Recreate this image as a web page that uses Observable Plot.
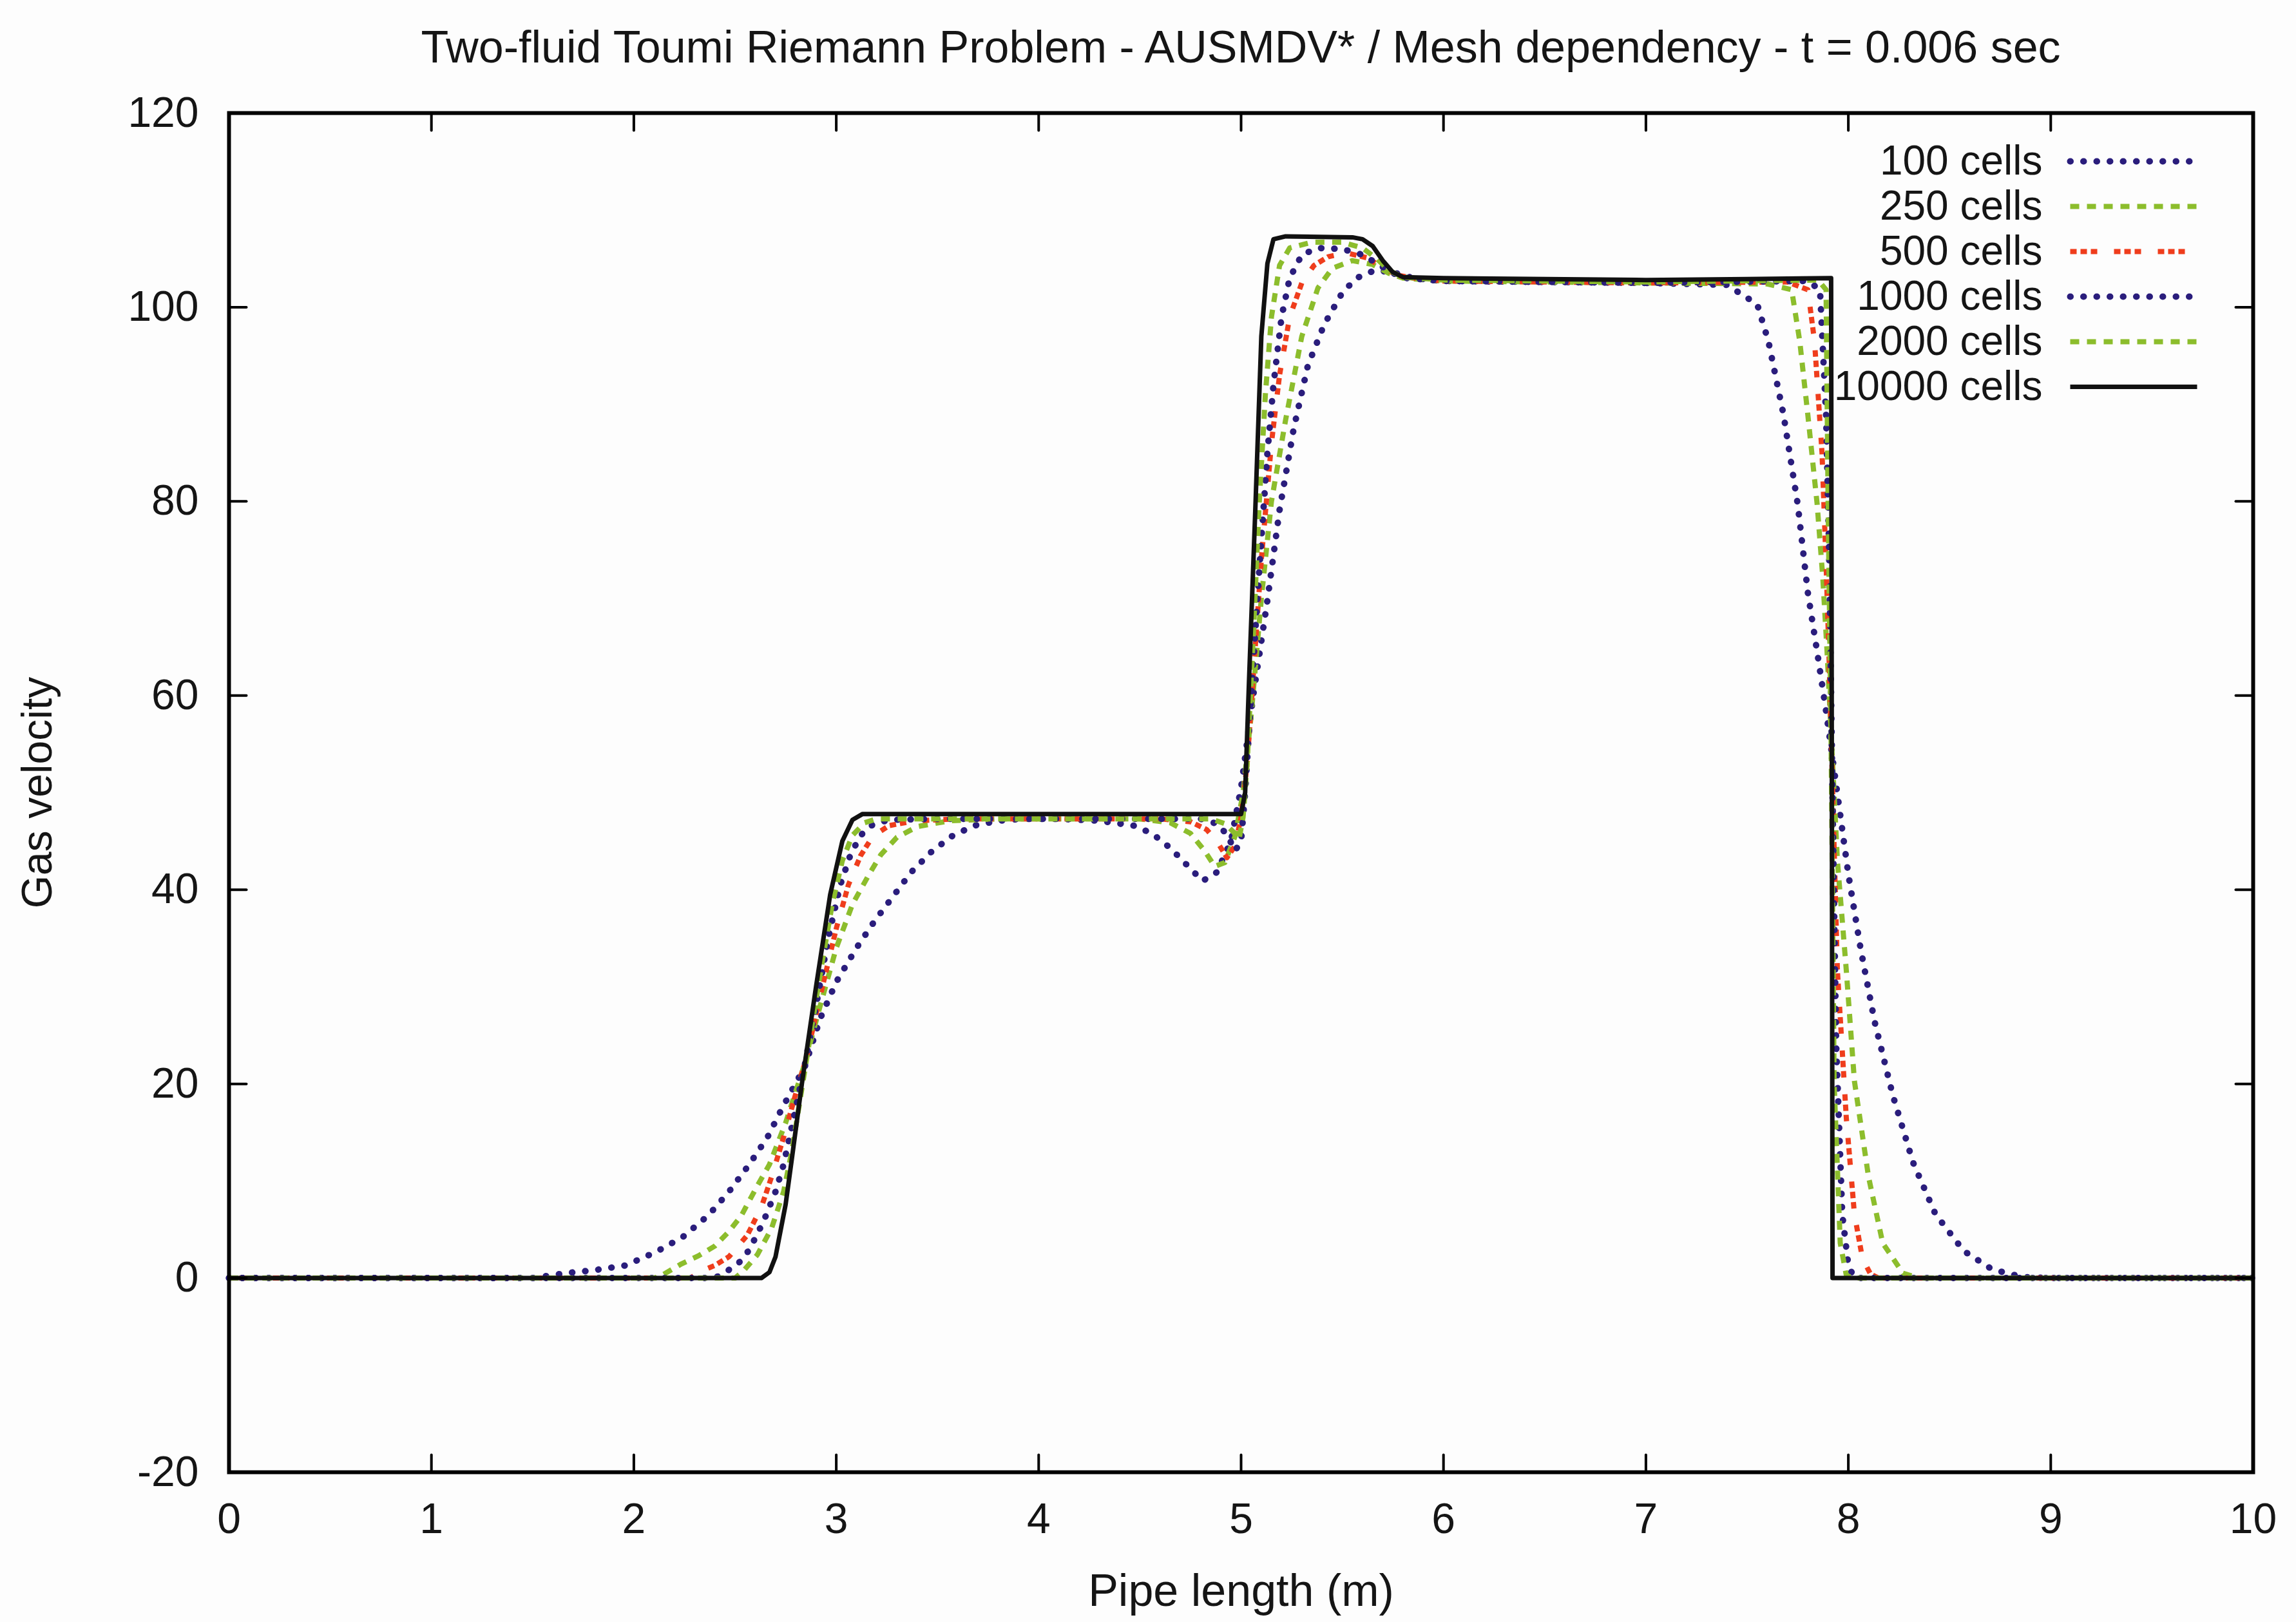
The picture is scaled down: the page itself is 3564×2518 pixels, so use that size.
<!DOCTYPE html>
<html>
<head>
<meta charset="utf-8">
<script src="https://cdn.jsdelivr.net/npm/d3@7"></script>
<script src="https://cdn.jsdelivr.net/npm/@observablehq/plot@0.6"></script>
<style>
  html, body { margin: 0; padding: 0; background: #fdfdfd; }
  body { width: 3564px; height: 2518px; overflow: hidden; font-family: "Liberation Sans", Arial, sans-serif; }
  #title { position: relative; height: 150px; }
  #title div { position: absolute; left: 355px; right: 67px; top: 38px; text-align: center;
               font-size: 70px; line-height: 70px; color: #151515; white-space: nowrap; }
  svg { overflow: visible; display: block; }
</style>
</head>
<body>
<div id="title"><div>Two-fluid Toumi Riemann Problem - AUSMDV* / Mesh dependency - t = 0.006 sec</div></div>
<div id="chart"></div>
<script>
// ---------- data ----------
const seriesNames = ["100 cells", "250 cells", "500 cells", "1000 cells", "2000 cells", "10000 cells"];
const xTicks = [0, 1, 2, 3, 4, 5, 6, 7, 8, 9, 10];
const yTicks = [-20, 0, 20, 40, 60, 80, 100, 120];

const x100 = [0, 1.50, 1.66, 1.80, 1.96, 2.11, 2.24, 2.37, 2.47, 2.57, 2.66, 2.735, 2.845, 2.92, 3.00, 3.10, 3.19, 3.28, 3.37, 3.47, 3.57, 3.68, 3.80, 3.92, 4.10, 4.30, 4.47, 4.56, 4.65, 4.73, 4.81, 4.88, 4.95, 5.00, 5.06, 5.13, 5.19, 5.26, 5.33, 5.41, 5.50, 5.57, 5.66, 5.75, 5.85, 6.00, 7.00, 7.40, 7.55, 7.605, 7.68, 7.75, 7.80, 7.846, 7.89, 7.93, 8.00, 8.06, 8.13, 8.22, 8.32, 8.43, 8.57, 8.71, 8.86, 9.00, 10];
const v100 = [0, 0, 0.5, 0.8, 1.3, 2.7, 4.2, 6.5, 8.9, 11.7, 14.5, 17.6, 21.8, 26.7, 30.5, 34.0, 36.8, 39.3, 41.8, 43.9, 45.5, 46.6, 47.1, 47.3, 47.3, 47.1, 46.6, 45.8, 44.3, 42.6, 40.9, 41.8, 45.0, 50.5, 60.0, 69.8, 79.1, 87.5, 94.0, 98.2, 101.5, 103.0, 103.8, 103.6, 103.0, 102.7, 102.5, 102.3, 100.3, 96.5, 88.9, 79.7, 70.6, 64.5, 58.4, 52.3, 41.6, 34.0, 26.4, 18.8, 11.9, 6.6, 2.8, 0.9, 0.1, 0, 0];

const x250 = [0, 2.10, 2.14, 2.23, 2.32, 2.40, 2.47, 2.53, 2.61, 2.67, 2.75, 2.84, 2.92, 3.00, 3.08, 3.16, 3.22, 3.30, 3.40, 3.56, 3.80, 4.50, 4.65, 4.75, 4.82, 4.87, 4.92, 4.97, 5.01, 5.05, 5.10, 5.15, 5.22, 5.30, 5.38, 5.45, 5.55, 5.65, 5.73, 5.80, 6.00, 7.00, 7.60, 7.72, 7.76, 7.80, 7.846, 7.874, 7.895, 7.92, 7.946, 7.99, 8.03, 8.10, 8.17, 8.27, 8.35, 10];
const v250 = [0, 0, 0.3, 1.4, 2.3, 3.3, 4.8, 6.4, 9.5, 11.7, 16.0, 21.8, 28.0, 34.0, 38.5, 41.5, 43.6, 45.4, 46.5, 47.1, 47.3, 47.3, 46.9, 45.8, 44.0, 42.4, 42.8, 45.5, 50.0, 58.0, 70.0, 80.0, 88.4, 97.0, 102.0, 104.0, 104.8, 104.4, 103.5, 103.0, 102.7, 102.5, 102.4, 101.8, 96.5, 88.9, 79.7, 72.1, 64.5, 54.0, 43.0, 31.7, 20.3, 10.4, 3.6, 0.5, 0, 0];

const x500 = [0, 2.28, 2.33, 2.40, 2.47, 2.56, 2.63, 2.68, 2.74, 2.80, 2.85, 2.92, 3.00, 3.06, 3.12, 3.18, 3.26, 3.39, 3.60, 4.60, 4.75, 4.83, 4.88, 4.93, 4.97, 5.00, 5.03, 5.06, 5.10, 5.15, 5.19, 5.24, 5.30, 5.36, 5.43, 5.52, 5.62, 5.70, 5.77, 5.85, 6.00, 7.00, 7.70, 7.80, 7.833, 7.87, 7.89, 7.905, 7.92, 7.946, 7.99, 8.03, 8.07, 8.11, 8.15, 10];
const v500 = [0, 0, 0.7, 1.3, 2.2, 4.4, 7.3, 10.4, 14.5, 19.0, 22.5, 29.0, 36.0, 40.5, 43.5, 45.5, 46.6, 47.1, 47.3, 47.3, 47.0, 46.2, 45.0, 43.3, 44.5, 47.5, 53.0, 62.0, 74.0, 86.0, 93.0, 99.0, 102.5, 104.3, 105.2, 105.6, 105.1, 104.1, 103.3, 103.0, 102.7, 102.5, 102.6, 101.8, 96.5, 85.0, 73.6, 63.7, 52.0, 31.7, 16.5, 6.6, 2.0, 0.4, 0, 0];

const x1000 = [0, 2.40, 2.46, 2.52, 2.57, 2.64, 2.70, 2.74, 2.79, 2.845, 2.90, 2.96, 3.02, 3.07, 3.12, 3.18, 3.26, 3.50, 4.80, 4.88, 4.93, 4.97, 5.00, 5.02, 5.05, 5.09, 5.13, 5.16, 5.20, 5.24, 5.30, 5.38, 5.50, 5.60, 5.68, 5.75, 5.82, 6.00, 7.00, 7.80, 7.86, 7.89, 7.905, 7.915, 7.925, 7.94, 7.97, 8.00, 8.03, 10];
const v1000 = [0, 0, 0.7, 1.6, 2.9, 5.8, 8.9, 11.7, 16.5, 22.0, 28.0, 35.0, 40.5, 43.6, 45.6, 46.7, 47.2, 47.3, 47.3, 46.8, 45.7, 44.0, 45.0, 50.0, 60.0, 73.0, 85.0, 92.0, 99.0, 103.0, 105.4, 106.1, 106.0, 105.4, 104.4, 103.5, 103.0, 102.7, 102.5, 102.7, 101.8, 88.9, 75.0, 60.0, 45.0, 24.1, 6.6, 1.3, 0, 0];

const x2000 = [0, 2.50, 2.54, 2.61, 2.68, 2.74, 2.78, 2.83, 2.88, 2.93, 2.98, 3.03, 3.08, 3.14, 3.20, 4.85, 4.92, 4.96, 4.99, 5.01, 5.03, 5.06, 5.09, 5.12, 5.15, 5.19, 5.24, 5.35, 5.50, 5.60, 5.67, 5.73, 5.80, 6.00, 7.00, 7.85, 7.89, 7.90, 7.915, 7.93, 7.96, 7.99, 8.02, 10];
const v2000 = [0, 0, 0.7, 2.4, 5.1, 8.9, 13.0, 19.5, 26.0, 32.5, 38.5, 43.0, 45.6, 46.9, 47.3, 47.3, 46.8, 46.0, 45.2, 47.5, 53.0, 66.0, 80.0, 91.0, 99.0, 104.3, 106.1, 106.7, 106.7, 106.1, 105.0, 103.8, 103.1, 102.8, 102.6, 102.8, 101.8, 80.0, 55.0, 20.0, 3.6, 0.3, 0, 0];

const x10000 = [0, 2.63, 2.67, 2.70, 2.75, 2.78, 2.83, 2.90, 2.97, 3.03, 3.08, 3.13, 3.50, 4.50, 5.00, 5.02, 5.04, 5.07, 5.10, 5.13, 5.16, 5.22, 5.55, 5.60, 5.65, 5.70, 5.75, 5.80, 6.00, 7.00, 7.50, 7.915, 7.922, 10];
const v10000 = [0, 0, 0.6, 2.2, 7.6, 12.2, 20.0, 30.0, 39.5, 45.0, 47.2, 47.8, 47.8, 47.8, 47.8, 50.0, 62.0, 79.0, 97.0, 104.5, 107.0, 107.3, 107.2, 107.0, 106.3, 104.8, 103.6, 103.1, 103.0, 102.8, 102.9, 103.0, 0, 0];

// ---------- styles ----------
const BLUE = "#2a1d7c", GREEN = "#8cbd2c", RED = "#ef3d1c", BLACK = "#111";
const dotted = {strokeWidth: 10, strokeDasharray: "0.5,20", strokeLinecap: "round"};
const dashed = {strokeWidth: 8, strokeDasharray: "14,12", strokeLinecap: "butt"};
const dashdot = {strokeWidth: 8, strokeDasharray: "10,6,10,6,10,26", strokeLinecap: "butt"};
const solid = {strokeWidth: 7, strokeLinecap: "butt"};

const seriesX = [x100, x250, x500, x1000, x2000, x10000];
const seriesV = [v100, v250, v500, v1000, v2000, v10000];
const seriesColor = [BLUE, GREEN, RED, BLUE, GREEN, BLACK];
const seriesStyle = [dotted, dashed, dashdot, dotted, dashed, solid];

const tables = seriesX.map((xs, s) => xs.map((x, i) => ({x, y: seriesV[s][i]})));

// ---------- shapes for inward ticks / legend samples ----------
const stickShape = {draw(ctx, l) { ctx.moveTo(0, 0); ctx.lineTo(0, -l); }};
const TICK = 27;
const tickOpts = {anchor: "start", length: TICK, shape: stickShape, stroke: "black", strokeWidth: 4};

// legend geometry (pixels relative to frame top-right)
const legTextDx = -327, legLineDx = -284, legLineLen = 197, legDy0 = 75, legStep = 70;

const legendMarks = [];
seriesNames.forEach((name, i) => {
  legendMarks.push(Plot.text([name], {
    frameAnchor: "top-right", dx: legTextDx, dy: legDy0 + i * legStep,
    text: d => d, textAnchor: "end", lineAnchor: "middle", fontSize: 64, fill: "#151515"
  }));
  legendMarks.push(Plot.vector([0], {
    frameAnchor: "top-right", dx: legLineDx, dy: legDy0 + i * legStep,
    rotate: 90, anchor: "start", length: legLineLen, shape: stickShape,
    stroke: seriesColor[i], ...seriesStyle[i]
  }));
});

const lineMarks = tables.map((t, s) => Plot.line(t, {
  x: "x", y: "y", stroke: seriesColor[s], strokeLinejoin: "round", ...seriesStyle[s]
}));

const plot = Plot.plot({
  width: 3564,
  height: 2368,
  marginLeft: 355,
  marginRight: 67,
  marginTop: 25,
  marginBottom: 233,
  x: {domain: [0, 10]},
  y: {domain: [-20, 120]},
  style: {fontFamily: "'Liberation Sans', Arial, sans-serif", background: "transparent", color: "#151515"},
  marks: [
    ...legendMarks,
    ...lineMarks,
    Plot.frame({stroke: "black", strokeWidth: 6}),
    Plot.vector(xTicks, {x: d => d, frameAnchor: "bottom", rotate: 0, ...tickOpts}),
    Plot.vector(xTicks, {x: d => d, frameAnchor: "top", rotate: 180, ...tickOpts}),
    Plot.vector(yTicks, {y: d => d, frameAnchor: "left", rotate: 90, ...tickOpts}),
    Plot.vector(yTicks, {y: d => d, frameAnchor: "right", rotate: -90, ...tickOpts}),
    Plot.axisX({anchor: "bottom", ticks: xTicks, tickSize: 0, tickPadding: 48, fontSize: 66,
                tickFormat: d => String(d), label: null}),
    Plot.axisY({anchor: "left", ticks: yTicks, tickSize: 0, tickPadding: 47, fontSize: 66,
                tickFormat: d => String(d), label: null}),
    Plot.text(["Pipe length (m)"], {frameAnchor: "bottom", dy: 185, lineAnchor: "middle",
                text: d => d, fontSize: 70, fill: "#151515"}),
    Plot.text(["Gas velocity"], {frameAnchor: "left", dx: -297, rotate: -90, lineAnchor: "middle",
                textAnchor: "middle", text: d => d, fontSize: 66, fill: "#151515"})
  ]
});
document.getElementById("chart").appendChild(plot);
</script>
</body>
</html>
